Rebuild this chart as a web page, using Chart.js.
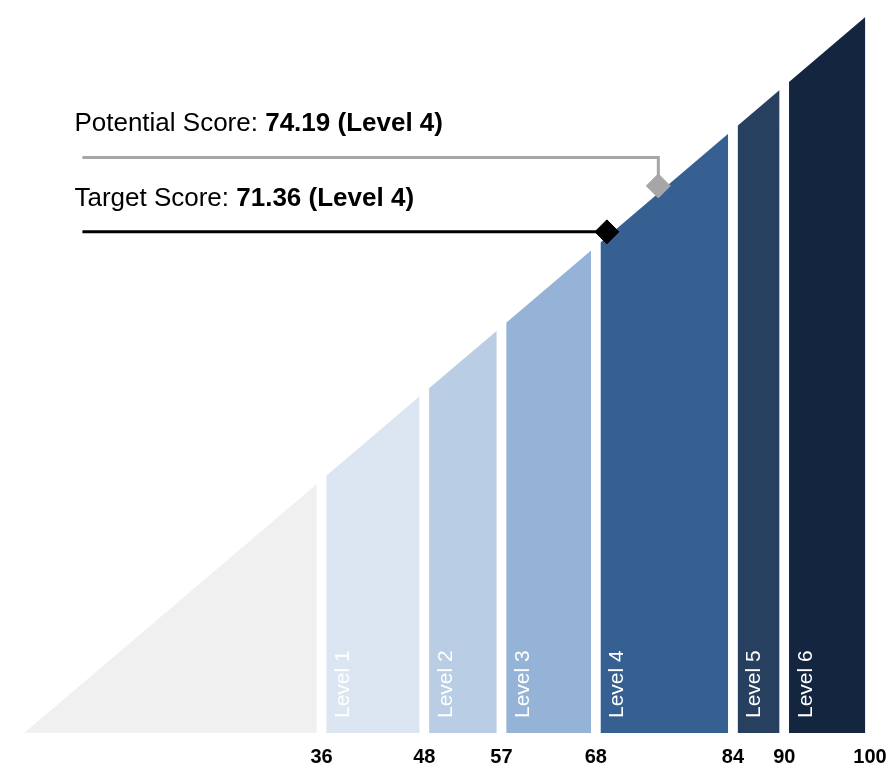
<!DOCTYPE html>
<html>
<head>
<meta charset="utf-8">
<script src="https://cdn.jsdelivr.net/npm/chart.js@4.4.0/dist/chart.umd.min.js"></script>
<style>
  body { margin: 0; background: #fff; }
  #wrap { width: 891px; height: 765px; }
</style>
</head>
<body>
<div id="wrap"><canvas id="chart-score"></canvas></div>
<script>
// score band boundaries (x axis) and the level names for each band
const boundaries = [0, 36, 48, 57, 68, 84, 90, 100];
const levelNames = ["", "Level 1", "Level 2", "Level 3", "Level 4", "Level 5", "Level 6"];
const levelColors = ["#f0f0f0", "#dce6f2", "#b9cde5", "#95b3d7", "#376092", "#27405f", "#13253f"];
const tickValues = [36, 48, 57, 68, 84, 90, 100];

// score markers (label values + where the marks sit in the picture)
const potentialLabel = "74.19 (Level 4)";
const targetLabel = "71.36 (Level 4)";
const potentialMark = { x: 75.3, y: 76.3 };
const targetMark = { x: 69.3, y: 70.0 };
const potentialLineY = 80.2;
const lineStartX = 8.1;

const FONT = "Arial, 'Liberation Sans', sans-serif";
const halfGap = 0.55; // white gap between bands, in score units

// one filled trapezoid per band
const bandSets = [];
for (let i = 0; i < boundaries.length - 1; i++) {
  const lo = boundaries[i] === 0 ? 0 : boundaries[i] + halfGap;
  const hi = boundaries[i + 1] - halfGap;
  bandSets.push({
    label: levelNames[i],
    data: [{ x: lo, y: lo }, { x: hi, y: hi }],
    backgroundColor: levelColors[i],
    borderWidth: 0,
    pointRadius: 0,
    fill: "origin",
    order: 2
  });
}

const markerSets = [
  {
    label: "Target",
    data: [{ x: lineStartX, y: targetMark.y }, { x: targetMark.x, y: targetMark.y }],
    borderColor: "#000",
    borderWidth: 3,
    pointStyle: "rectRot",
    pointRadius: [0, 12],
    pointBackgroundColor: "#000",
    pointBorderColor: "#000",
    pointBorderWidth: 1,
    fill: false,
    order: 0
  },
  {
    label: "Potential",
    data: [
      { x: lineStartX, y: potentialLineY },
      { x: potentialMark.x, y: potentialLineY },
      { x: potentialMark.x, y: potentialMark.y }
    ],
    borderColor: "#a6a6a6",
    borderWidth: 3,
    pointStyle: "rectRot",
    pointRadius: [0, 0, 12],
    pointBackgroundColor: "#a6a6a6",
    pointBorderColor: "#a6a6a6",
    pointBorderWidth: 1,
    fill: false,
    order: 1
  }
];

// tick numbers, level names (rotated) and the two score captions
const textPlugin = {
  id: "textPlugin",
  afterDatasetsDraw(chart) {
    const ctx = chart.ctx;
    const xs = chart.scales.x;
    const ys = chart.scales.y;
    const bottom = chart.chartArea.bottom;

    // bottom tick numbers
    ctx.save();
    ctx.fillStyle = "#000";
    ctx.font = "bold 20px " + FONT;
    ctx.textAlign = "center";
    ctx.textBaseline = "middle";
    tickValues.forEach(v => ctx.fillText(String(v), xs.getPixelForValue(v), bottom + 24));
    ctx.restore();

    ctx.save();
    ctx.fillStyle = "#fff";
    ctx.font = "21px " + FONT;
    ctx.textAlign = "left";
    ctx.textBaseline = "middle";
    for (let i = 1; i < boundaries.length - 1; i++) {
      const x = xs.getPixelForValue(boundaries[i] + halfGap) + 17;
      ctx.save();
      ctx.translate(x, bottom - 15);
      ctx.rotate(-Math.PI / 2);
      ctx.fillText(levelNames[i], 0, 0);
      ctx.restore();
    }
    ctx.restore();

    const caption = (plain, bold, yVal) => {
      const x = xs.getPixelForValue(lineStartX) - 8;
      const y = ys.getPixelForValue(yVal) - 26;
      ctx.save();
      ctx.fillStyle = "#000";
      ctx.textBaseline = "alphabetic";
      ctx.textAlign = "left";
      ctx.font = "26px " + FONT;
      ctx.fillText(plain, x, y);
      const w = ctx.measureText(plain).width;
      ctx.font = "bold 26px " + FONT;
      ctx.fillText(bold, x + w, y);
      ctx.restore();
    };
    caption("Potential Score: ", potentialLabel, potentialLineY);
    caption("Target Score: ", targetLabel, targetMark.y);
  }
};

new Chart(document.getElementById("chart-score"), {
  type: "line",
  data: { datasets: markerSets.concat(bandSets) },
  options: {
    responsive: true,
    maintainAspectRatio: false,
    animation: false,
    layout: { padding: { left: 8, right: 21, top: 13, bottom: 32 } },
    scales: {
      x: { type: "linear", min: 0, max: 100, display: false },
      y: { type: "linear", min: 1.3, max: 100, display: false }
    },
    plugins: {
      legend: { display: false },
      tooltip: { enabled: false }
    }
  },
  plugins: [textPlugin]
});
</script>
</body>
</html>
